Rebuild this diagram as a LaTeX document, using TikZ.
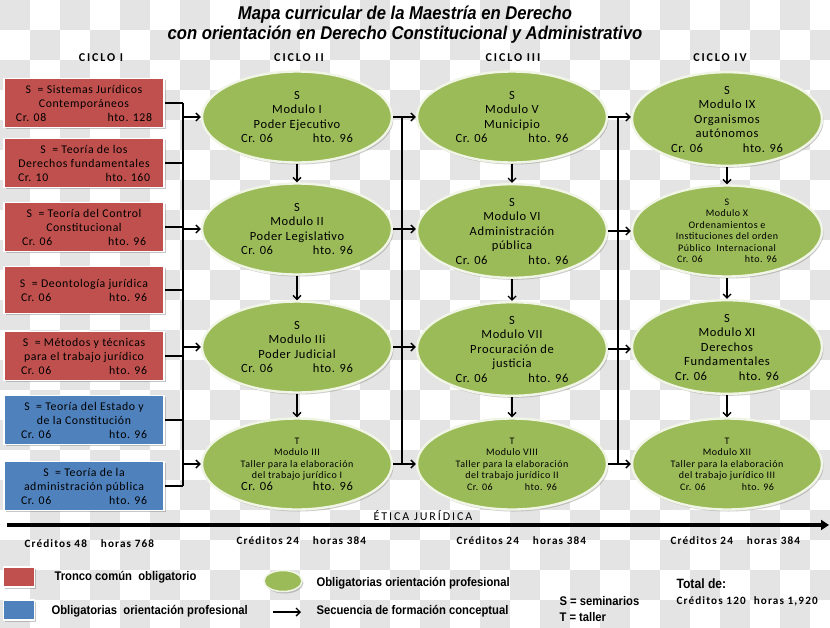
\documentclass[tikz,border=0pt]{standalone}
\usepackage{fontspec}
\setmainfont{Carlito}
\newfontfamily\narrowfont[FakeStretch=0.9]{Liberation Sans}
\newfontfamily\spacedfont[LetterSpace=10]{Carlito}
\newfontfamily\widefont[LetterSpace=16]{Carlito}
\newfontfamily\cuerpofont[LetterSpace=5]{Carlito}
\usetikzlibrary{positioning,shapes.geometric,shadows,arrows.meta}
\definecolor{troncored}{HTML}{C0504D}
\definecolor{orientblue}{HTML}{4F81BD}
\definecolor{modulogreen}{HTML}{9BBB59}
\definecolor{checker}{HTML}{E4E4E4}
\tikzset{
  materia/.style={rectangle, draw=white, line width=1.5pt, minimum width=160pt, minimum height=49pt,
    inner sep=0pt, align=center, font=\cuerpofont\fontsize{11.8}{14}\selectfont,
    drop shadow={shadow xshift=1.5pt, shadow yshift=-1.5pt, opacity=0.45}},
  troncobox/.style={materia, fill=troncored},
  orientbox/.style={materia, fill=orientblue},
  modulo/.style={ellipse, fill=modulogreen, draw=modulogreen!15!white, line width=2.4pt,
    minimum width=190pt, minimum height=91pt, inner sep=0pt, align=center,
    font=\cuerpofont\fontsize{12.5}{14.5}\selectfont,
    drop shadow={shadow xshift=1.5pt, shadow yshift=-2pt, opacity=0.4}},
  taller/.style={modulo, font=\cuerpofont\fontsize{10}{11.5}\selectfont},
  linea/.style={line width=1.4pt},
  flecha/.style={line width=1.4pt, -{Straight Barb[length=4pt,width=8pt]}},
  ciclo/.style={font=\widefont\bfseries\fontsize{12}{13}\selectfont},
  creditos/.style={anchor=west, font=\spacedfont\bfseries\fontsize{11.2}{12}\selectfont},
  leyenda/.style={anchor=west, font=\narrowfont\bfseries\fontsize{12.5}{14}\selectfont},
}
\newcommand{\crhto}[3]{\makebox[#1pt]{Cr. #2\hfill hto. #3}}

\begin{document}
\begin{tikzpicture}[x=1pt,y=-1pt]
\useasboundingbox (0,0) rectangle (830,627);
\begin{scope}
  \clip (0,0) rectangle (830,627);
  \foreach \j in {0,...,20}{
    \pgfmathtruncatemacro\off{mod(\j,2)*30}
    \foreach \i in {0,60,...,840}
      \fill[checker] (\i+\off,30*\j) rectangle ++(30,30);
  }
\end{scope}

\node[font=\narrowfont\bfseries\itshape\fontsize{18.5}{20}\selectfont] (titulo1) at (405,15) {Mapa curricular de la Maestría en Derecho};
\node[font=\narrowfont\bfseries\itshape\fontsize{18.5}{20}\selectfont] (titulo2) at (405,35) {con orientación en Derecho Constitucional y Administrativo};

\node[ciclo] (c1) at (101,58) {CICLO I};
\node[ciclo] (c2) at (299,58) {CICLO II};
\node[ciclo] (c3) at (513,58) {CICLO III};
\node[ciclo] (c4) at (720,58) {CICLO IV};

\node[troncobox] (s1) at (84,103) {S\ \ = Sistemas Jurídicos\\Contemporáneos\\\crhto{136}{08}{128}};
\node[troncobox] (s2) at (84,163) {S\ \ = Teoría de los\\Derechos fundamentales\\\crhto{132}{10}{160}};
\node[troncobox] (s3) at (84,227) {S\ \ = Teoría del Control\\Constitucional\\\crhto{124}{06}{96}};
\node[troncobox, minimum height=47pt] (s4) at (84,290) {S\ \ = Deontología jurídica\\\crhto{126}{06}{96}};
\node[troncobox] (s5) at (84,356) {S\ \ = Métodos y técnicas\\para el trabajo jurídico\\\crhto{126}{06}{96}};
\node[orientbox] (s6) at (84,420) {S\ \ = Teoría del Estado y\\de la Constitución\\\crhto{126}{06}{96}};
\node[orientbox] (s7) at (84,486) {S\ \ = Teoría de la\\administración pública\\\crhto{126}{06}{96}};

\node[modulo] (m1) at (297,117) {S\\Modulo I\\Poder Ejecutivo\\\crhto{112}{06}{96}};
\node[modulo] (m2) at (297,229) {S\\Modulo II\\Poder Legislativo\\\crhto{112}{06}{96}};
\node[modulo] (m3) at (297,347) {S\\Modulo IIi\\Poder Judicial\\\crhto{112}{06}{96}};
\node[taller] (m4) at (297,464) {T\\Modulo III\\Taller para la elaboración\\del trabajo jurídico I\\{\fontsize{12.5}{15}\selectfont\crhto{112}{06}{96}}};
\node[modulo] (m5) at (512,117) {S\\Modulo V\\Municipio\\\crhto{113}{06}{96}};
\node[modulo] (m6) at (512,231) {S\\Modulo VI\\Administración\\pública\\\crhto{113}{06}{96}};
\node[modulo] (m7) at (512,349) {S\\Modulo VII\\Procuración de\\justicia\\\crhto{113}{06}{96}};
\node[taller] (m8) at (512,464) {T\\Modulo VIII\\Taller para la elaboración\\del trabajo jurídico II\\\crhto{90}{06}{96}};
\node[modulo] (m9) at (727,119) {S\\Modulo IX\\Organismos\\autónomos\\\crhto{112}{06}{96}};
\node[taller] (m10) at (727,231) {S\\Modulo X\\Ordenamientos e\\Instituciones del orden\\Público\ \ Internacional\\\crhto{100}{06}{96}};
\node[modulo] (m11) at (727,347) {S\\Modulo XI\\Derechos\\Fundamentales\\\crhto{104}{06}{96}};
\node[taller] (m12) at (727,464) {T\\Modulo XII\\Taller para la elaboración\\del trabajo jurídico III\\\crhto{94}{06}{96}};

\coordinate (bus1) at (183,0);
\coordinate (bus2) at (402,0);
\coordinate (bus3) at (618,0);
\foreach \i in {1,...,7}
  \draw[linea] (s\i.east) -- (s\i.east -| bus1);
\draw[linea] (s1.east -| bus1) -- (s7.east -| bus1);
\foreach \i in {1,...,4}
  \draw[flecha] (m\i.west -| bus1) -- (m\i.west);
\foreach \i/\j in {1/5,2/6,3/7,4/8}{
  \draw[linea] (m\i.east) -- (m\i.east -| bus2);
  \draw[flecha] (m\i.east -| bus2) -- (m\i.east -| m\j.west);
}
\draw[linea] (m1.east -| bus2) -- (m4.east -| bus2);
\foreach \i/\j in {5/9,6/10,7/11,8/12}{
  \draw[linea] (m\i.east) -- (m\i.east -| bus3);
  \draw[flecha] (m\i.east -| bus3) -- (m\i.east -| m\j.west);
}
\draw[linea] (m5.east -| bus3) -- (m8.east -| bus3);
\foreach \a/\b in {1/2,2/3,3/4,5/6,6/7,7/8,9/10,10/11,11/12}
  \draw[flecha] (m\a.south) -- (m\b.north);

\coordinate (eje0) at (7,525);
\coordinate (eje1) at (829,525);
\draw[line width=3.5pt, -{Triangle[length=8pt,width=10pt]}] (eje0) -- (eje1);
\node[font=\widefont\fontsize{12}{13}\selectfont] (etica) at (423,516) {ÉTICA JURÍDICA};

\node[creditos] (cr1) at (21,544) {Créditos 48\hspace{14pt}horas 768};
\node[creditos] (cr2) at (233,541) {Créditos 24\hspace{14pt}horas 384};
\node[creditos] (cr3) at (453,541) {Créditos 24\hspace{14pt}horas 384};
\node[creditos] (cr4) at (667,541) {Créditos 24\hspace{14pt}horas 384};

\node[troncobox, minimum width=31pt, minimum height=20pt] (ley1) at (19,577) {};
\node[orientbox, minimum width=31pt, minimum height=20pt] (ley2) at (19,610) {};
\node[leyenda] (tley1) at (51,577) {Tronco común\ \ obligatorio};
\node[leyenda] (tley2) at (48,611) {Obligatorias\ \ orientación profesional};
\node[modulo, minimum width=38pt, minimum height=21pt, line width=1.5pt] (ley3) at (283,581) {};
\node[leyenda] (tley3) at (313,583) {Obligatorias orientación profesional};
\coordinate (sec0) at (273,612);
\coordinate (sec1) at (301,612);
\draw[flecha] (sec0) -- (sec1);
\node[leyenda] (tley4) at (313,611) {Secuencia de formación conceptual};
\node[leyenda] (tley5) at (556,601) {S = seminarios};
\node[leyenda] (tley6) at (556,617) {T = taller};
\node[leyenda, font=\narrowfont\bfseries\fontsize{13.5}{14}\selectfont] (total) at (673,584) {Total de:};
\node[creditos] (cr5) at (673,601) {Créditos 120\hspace{8pt}horas 1,920};
\end{tikzpicture}
\end{document}
